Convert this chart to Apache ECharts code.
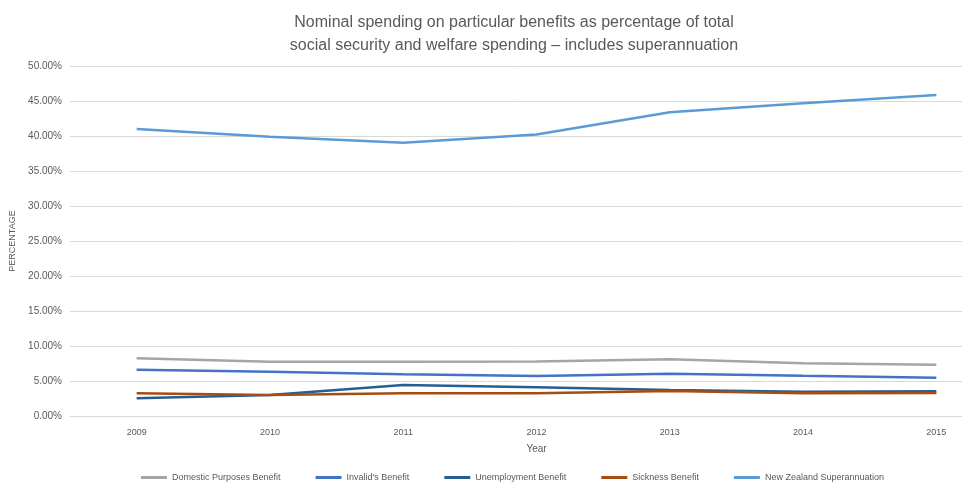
<!DOCTYPE html>
<html>
<head>
<meta charset="utf-8">
<script src="https://cdn.jsdelivr.net/npm/echarts@6/dist/echarts.min.js"></script>
<style>html,body{margin:0;padding:0;background:#fff}#c{width:962px;height:488px}</style>
</head>
<body>
<div id="c"></div>
<script>
const years = ['2009','2010','2011','2012','2013','2014','2015'];
const domesticPurposes = [8.24, 7.76, 7.76, 7.80, 8.10, 7.52, 7.33];
const invalids = [6.62, 6.33, 5.95, 5.71, 6.05, 5.76, 5.48];
const unemployment = [2.52, 3.00, 4.43, 4.10, 3.71, 3.48, 3.52];
const sickness = [3.24, 3.00, 3.24, 3.24, 3.57, 3.24, 3.29];
const nzSuper = [41.0, 39.9, 39.05, 40.2, 43.38, 44.67, 45.86];
const seriesNames = ['Domestic Purposes Benefit', "Invalid's Benefit", 'Unemployment Benefit', 'Sickness Benefit', 'New Zealand Superannuation'];
const colors = ['#A5A5A5', '#4472C4', '#255E91', '#A84D12', '#5B9BD5'];
const dataSets = [domesticPurposes, invalids, unemployment, sickness, nzSuper];

const font = '"Liberation Sans Narrow", "Liberation Sans", sans-serif';
const chart = echarts.init(document.getElementById('c'), null, {renderer: 'canvas'});
chart.setOption({
  animation: false,
  color: colors,
  textStyle: {fontFamily: font},
  title: {
    text: 'Nominal spending on particular benefits as percentage of total\nsocial security and welfare spending – includes superannuation',
    left: 509, top: 6, textAlign: 'center',
    textStyle: {fontFamily: font, fontSize: 16, fontWeight: 'normal', color: '#595959', lineHeight: 23}
  },
  grid: {left: 70, top: 66, width: 933, height: 350, containLabel: false, outerBoundsMode: 'none'},
  legend: {
    bottom: 1, left: 136,
    itemWidth: 26, itemHeight: 3, itemGap: 35, icon: 'rect',
    textStyle: {fontFamily: font, fontSize: 9, color: '#595959'},
    data: seriesNames
  },
  xAxis: {
    type: 'category', data: years, boundaryGap: true,
    name: 'Year', nameLocation: 'middle', nameGap: 28,
    nameTextStyle: {fontFamily: font, fontSize: 10, color: '#595959'},
    axisLine: {show: true, lineStyle: {color: '#D9D9D9'}},
    axisTick: {show: false},
    axisLabel: {fontFamily: font, fontSize: 9, color: '#595959', margin: 12}
  },
  yAxis: {
    type: 'value', min: 0, max: 50, interval: 5,
    name: 'PERCENTAGE', nameLocation: 'middle', nameGap: 50, nameRotate: 90,
    nameTextStyle: {fontFamily: font, fontSize: 9, color: '#595959'},
    axisLine: {show: false}, axisTick: {show: false},
    splitLine: {lineStyle: {color: '#D9D9D9', width: 1}},
    axisLabel: {fontFamily: font, fontSize: 10, color: '#595959', margin: 8,
      formatter: v => v.toFixed(2) + '%'}
  },
  series: dataSets.map((d, i) => ({
    name: seriesNames[i], type: 'line', data: d, symbol: 'none', smooth: false,
    lineStyle: {width: 2.5, color: colors[i]}, itemStyle: {color: colors[i]}
  }))
});
</script>
</body>
</html>
